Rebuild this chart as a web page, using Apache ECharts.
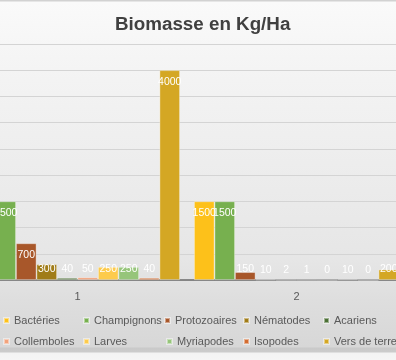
<!DOCTYPE html>
<html>
<head>
<meta charset="utf-8">
<script src="https://cdn.jsdelivr.net/npm/echarts@6/dist/echarts.min.js"></script>
<style>
html,body{margin:0;padding:0;overflow:hidden;width:396px;height:360px;}
#bg{position:absolute;left:0;top:0;width:396px;height:360px;
background:linear-gradient(to bottom,#d2d2d2 0px,#d2d2d2 1px,#fafafa 2px,#f3f3f3 80px,#e6e6e6 260px,#dedede 300px,#d7d7d7 347px,#c9c9c9 348px,#cbcbcb 352px,#f3f3f3 353px,#f5f5f5 360px);}
#clip{position:absolute;left:0;top:0;width:396px;height:360px;overflow:hidden;}
#chart{position:absolute;left:-32px;top:0;width:438px;height:360px;}
</style>
</head>
<body>
<div id="bg"></div>
<div id="clip"><div id="chart"></div></div>
<script>
const categories = ['1', '2'];
const seriesNames = ['Bactéries','Champignons','Protozoaires','Nématodes','Acariens','Collemboles','Larves','Myriapodes','Isopodes','Vers de terre'];
const bacteries = [1500, 1500];
const champignons = [1500, 1500];
const protozoaires = [700, 150];
const nematodes = [300, 10];
const acariens = [40, 2];
const collemboles = [50, 1];
const larves = [250, 0];
const myriapodes = [250, 10];
const isopodes = [40, 0];
const versDeTerre = [4000, 200];
const yTicks = {min: 0, max: 4500, interval: 500};

const values = [bacteries, champignons, protozoaires, nematodes, acariens, collemboles, larves, myriapodes, isopodes, versDeTerre];
const colors = ['#fdc11a','#77b04f','#a8572a','#a07c18','#4b7035','#f2a37c','#fdcb4c','#96c57a','#d36c30','#d4a724'];
const X0 = 32; // offset of the visible window inside the wider chart
const legendPos = [
  [3,315],[83,315],[164,315],[243,315],[323,315],
  [3,336],[83,336],[166,336],[243,336],[323,336]
];

const series = seriesNames.map((name, i) => ({
  name: name,
  type: 'bar',
  barGap: '0%',
  barCategoryGap: '6.4%',
  itemStyle: {color: colors[i], borderColor: 'rgba(255,255,255,0.45)', borderWidth: 0.8},
  label: {show: true, color: '#ffffff', fontSize: 10.5, fontFamily: 'Liberation Sans'},
  data: values[i].map(v => ({
    value: v,
    label: v < 450 ? {position: 'insideBottom', distance: 5} : {position: 'insideTop', distance: 6}
  }))
}));

const legends = seriesNames.map((name, i) => ({
  data: [name],
  left: legendPos[i][0] + X0,
  top: legendPos[i][1],
  icon: 'rect',
  itemWidth: 5,
  itemHeight: 5,
  padding: 0,
  selectedMode: false,
  textStyle: {color: '#595959', fontSize: 11, fontFamily: 'Liberation Sans'}
}));

const chart = echarts.init(document.getElementById('chart'), null, {renderer: 'canvas'});
chart.setOption({
  animation: false,
  backgroundColor: 'transparent',
  color: colors,
  title: {
    text: 'Biomasse en Kg/Ha',
    left: X0 + 110,
    top: 10,
    textStyle: {color: '#404040', fontSize: 18.8, fontWeight: 'bold', fontFamily: 'Liberation Sans'}
  },
  legend: legends,
  grid: {left: 0, right: 0, top: 44, bottom: 80, containLabel: false},
  xAxis: {
    type: 'category',
    data: categories,
    axisLine: {lineStyle: {color: '#6a6a6a', width: 1.6}},
    axisTick: {show: false},
    axisLabel: {color: '#595959', fontSize: 11, fontFamily: 'Liberation Sans', margin: 11}
  },
  yAxis: {
    type: 'value',
    min: yTicks.min,
    max: yTicks.max,
    interval: yTicks.interval,
    axisLine: {show: false},
    axisTick: {show: false},
    axisLabel: {show: false},
    splitLine: {lineStyle: {color: '#d4d4d4', width: 1}}
  },
  series: series
});
</script>
</body>
</html>
